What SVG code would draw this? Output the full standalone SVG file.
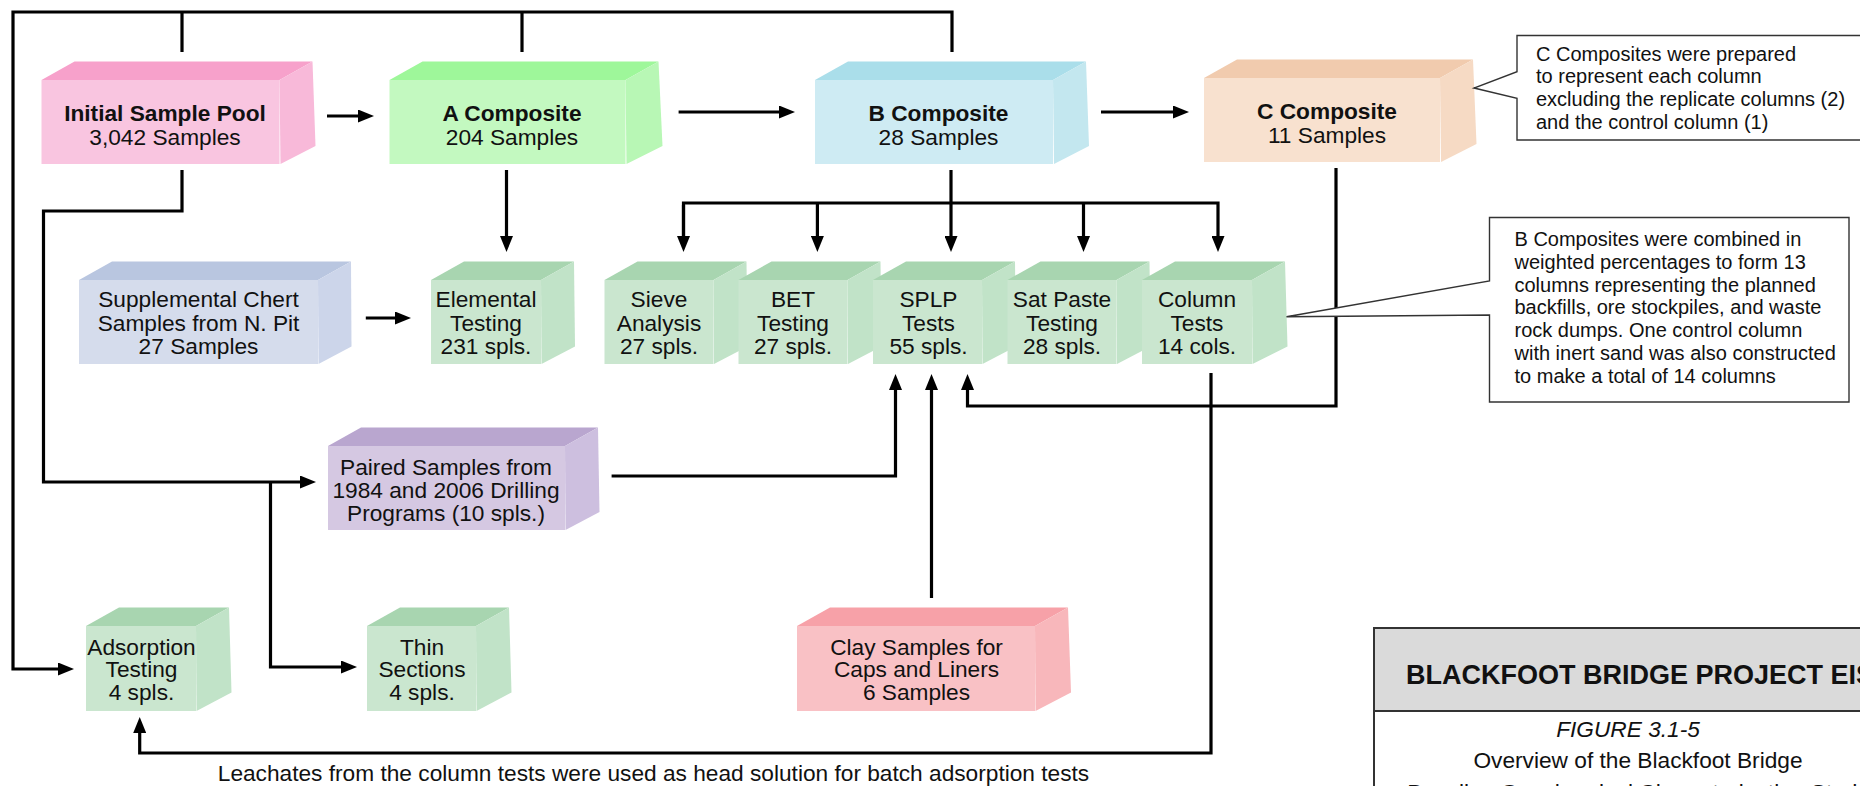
<svg xmlns="http://www.w3.org/2000/svg" width="1860" height="786" viewBox="0 0 1860 786">
<style>
.t{font-family:"Liberation Sans",Arial,sans-serif;font-size:22.7px;fill:#111;text-anchor:middle}
.b{font-weight:bold}
.c{font-family:"Liberation Sans",Arial,sans-serif;font-size:20px;fill:#111}
.ln{fill:none;stroke:#000;stroke-width:3.2}
.co{fill:#fff;stroke:#333;stroke-width:1.4}
.pink .f{fill:#f9c5e0}.pink .tp{fill:#f7a1cb}.pink .rt{fill:#f8b9d9}
.lg .f{fill:#c3f9c0}.lg .tp{fill:#9ef79a}.lg .rt{fill:#b8f7b5}
.blue .f{fill:#ceebf3}.blue .tp{fill:#aadeea}.blue .rt{fill:#c3e7ef}
.peach .f{fill:#f8e1cf}.peach .tp{fill:#f1cbae}.peach .rt{fill:#f6dac4}
.gr .f{fill:#cae6cf}.gr .tp{fill:#a8d5b0}.gr .rt{fill:#c1e3c8}
.sl .f{fill:#d5dcec}.sl .tp{fill:#b9c6e0}.sl .rt{fill:#ccd5ea}
.pu .f{fill:#d5c8e2}.pu .tp{fill:#b9a6cf}.pu .rt{fill:#cdbfdf}
.cl .f{fill:#f9c1c5}.cl .tp{fill:#f7a1a8}.cl .rt{fill:#f8b7bb}
</style>
<defs>
<marker id="ah" markerUnits="userSpaceOnUse" markerWidth="16" markerHeight="13" refX="8" refY="6.5" orient="auto">
<path d="M0,0 L16,6.5 L0,13 Z" fill="#000"/>
</marker>
</defs>
<rect width="1860" height="786" fill="#fff"/>

<g id="connectors">
<path class="ln" d="M952,52 V12 H13 V669 H66" marker-end="url(#ah)"/>
<path class="ln" d="M182,52 V12"/>
<path class="ln" d="M522,52 V12"/>
<path class="ln" d="M182,170 V211 H43.5 V482 H308" marker-end="url(#ah)"/>
<path class="ln" d="M270.5,482 V667 H349" marker-end="url(#ah)"/>
<path class="ln" d="M327,116 H366" marker-end="url(#ah)"/>
<path class="ln" d="M678.6,112 H787" marker-end="url(#ah)"/>
<path class="ln" d="M1101,112 H1181" marker-end="url(#ah)"/>
<path class="ln" d="M506.5,170 V244" marker-end="url(#ah)"/>
<path class="ln" d="M365.8,318 H403" marker-end="url(#ah)"/>
<path class="ln" d="M951,170 V244" marker-end="url(#ah)"/>
<path class="ln" d="M683.5,244 V203 H1218 V244" marker-end="url(#ah)"/>
<path class="ln" d="M683.5,205 V244" marker-end="url(#ah)"/>
<path class="ln" d="M817.4,203 V244" marker-end="url(#ah)"/>
<path class="ln" d="M1083.5,203 V244" marker-end="url(#ah)"/>
<path class="ln" d="M1336,168 V406 H967.5 V382" marker-end="url(#ah)"/>
<path class="ln" d="M611.6,476 H895.5 V382" marker-end="url(#ah)"/>
<path class="ln" d="M931.5,598 V382" marker-end="url(#ah)"/>
<path class="ln" d="M1211,373 V753 H139.7 V725" marker-end="url(#ah)"/>
</g>

<g id="initial" class="pink">
<rect class="f" x="41.5" y="80" width="238" height="84"/>
<polygon class="tp" points="41.5,80 74.5,61.5 312.5,61.5 279.5,80"/>
<polygon class="rt" points="279.5,80 312.5,61.5 315.5,146 280.5,164"/>
<text class="t b" x="165" y="121.4">Initial Sample Pool</text>
<text class="t" x="165" y="144.8">3,042 Samples</text>
</g>

<g id="a-composite" class="lg">
<rect class="f" x="389.5" y="80" width="236" height="84"/>
<polygon class="tp" points="389.5,80 422.5,61.5 658.5,61.5 625.5,80"/>
<polygon class="rt" points="625.5,80 658.5,61.5 662.5,146 626.5,164"/>
<text class="t b" x="512" y="121.4">A Composite</text>
<text class="t" x="512" y="144.8">204 Samples</text>
</g>

<g id="b-composite" class="blue">
<rect class="f" x="815" y="80" width="238" height="84"/>
<polygon class="tp" points="815,80 848,61.5 1086,61.5 1053,80"/>
<polygon class="rt" points="1053,80 1086,61.5 1089,146 1054,164"/>
<text class="t b" x="938.5" y="121.4">B Composite</text>
<text class="t" x="938.5" y="144.8">28 Samples</text>
</g>

<g id="c-composite" class="peach">
<rect class="f" x="1204" y="78" width="236" height="84"/>
<polygon class="tp" points="1204,78 1237,59.5 1473,59.5 1440,78"/>
<polygon class="rt" points="1440,78 1473,59.5 1476.5,144 1441,162"/>
<text class="t b" x="1327" y="119.4">C Composite</text>
<text class="t" x="1327" y="142.8">11 Samples</text>
</g>

<g id="supplemental" class="sl">
<rect class="f" x="79" y="280" width="239" height="84"/>
<polygon class="tp" points="79,280 112,261.5 351,261.5 318,280"/>
<polygon class="rt" points="318,280 351,261.5 351.5,346.5 318.5,364"/>
<text class="t" x="198.5" y="307.4">Supplemental Chert</text>
<text class="t" x="198.5" y="330.8">Samples from N. Pit</text>
<text class="t" x="198.5" y="354.1">27 Samples</text>
</g>

<g id="elemental" class="gr">
<rect class="f" x="431" y="280" width="110" height="84"/>
<polygon class="tp" points="431,280 464,261.5 574,261.5 541,280"/>
<polygon class="rt" points="541,280 574,261.5 575,346.5 541.5,364"/>
<text class="t" x="486" y="307.4">Elemental</text>
<text class="t" x="486" y="330.8">Testing</text>
<text class="t" x="486" y="354.1">231 spls.</text>
</g>

<g id="sieve" class="gr">
<rect class="f" x="604.5" y="280" width="109" height="84"/>
<polygon class="tp" points="604.5,280 637.5,261.5 746.5,261.5 713.5,280"/>
<polygon class="rt" points="713.5,280 746.5,261.5 747.5,346.5 714,364"/>
<text class="t" x="659" y="307.4">Sieve</text>
<text class="t" x="659" y="330.8">Analysis</text>
<text class="t" x="659" y="354.1">27 spls.</text>
</g>

<g id="bet" class="gr">
<rect class="f" x="738.5" y="280" width="109" height="84"/>
<polygon class="tp" points="738.5,280 771.5,261.5 880.5,261.5 847.5,280"/>
<polygon class="rt" points="847.5,280 880.5,261.5 881.5,346.5 848,364"/>
<text class="t" x="793" y="307.4">BET</text>
<text class="t" x="793" y="330.8">Testing</text>
<text class="t" x="793" y="354.1">27 spls.</text>
</g>

<g id="splp" class="gr">
<rect class="f" x="873" y="280" width="109" height="84"/>
<polygon class="tp" points="873,280 906,261.5 1015,261.5 982,280"/>
<polygon class="rt" points="982,280 1015,261.5 1016,346.5 982.5,364"/>
<text class="t" x="928.5" y="307.4">SPLP</text>
<text class="t" x="928.5" y="330.8">Tests</text>
<text class="t" x="928.5" y="354.1">55 spls.</text>
</g>

<g id="sat-paste" class="gr">
<rect class="f" x="1007.5" y="280" width="109" height="84"/>
<polygon class="tp" points="1007.5,280 1040.5,261.5 1149.5,261.5 1116.5,280"/>
<polygon class="rt" points="1116.5,280 1149.5,261.5 1150.5,346.5 1117,364"/>
<text class="t" x="1062" y="307.4">Sat Paste</text>
<text class="t" x="1062" y="330.8">Testing</text>
<text class="t" x="1062" y="354.1">28 spls.</text>
</g>

<g id="column" class="gr">
<rect class="f" x="1142" y="280" width="110" height="84"/>
<polygon class="tp" points="1142,280 1175,261.5 1285,261.5 1252,280"/>
<polygon class="rt" points="1252,280 1285,261.5 1287.5,346.5 1252.5,364"/>
<text class="t" x="1197" y="307.4">Column</text>
<text class="t" x="1197" y="330.8">Tests</text>
<text class="t" x="1197" y="354.1">14 cols.</text>
</g>

<g id="paired" class="pu">
<rect class="f" x="328" y="446" width="237" height="84"/>
<polygon class="tp" points="328,446 361,427.5 598,427.5 565,446"/>
<polygon class="rt" points="565,446 598,427.5 599.5,512 565.5,530"/>
<text class="t" x="446" y="474.8">Paired Samples from</text>
<text class="t" x="446" y="498.1">1984 and 2006 Drilling</text>
<text class="t" x="446" y="520.8">Programs (10 spls.)</text>
</g>

<g id="adsorption" class="gr">
<rect class="f" x="86" y="626" width="110" height="85"/>
<polygon class="tp" points="86,626 119,607.5 229,607.5 196,626"/>
<polygon class="rt" points="196,626 229,607.5 231.5,692.5 196.5,711"/>
<text class="t" x="141.5" y="654.8">Adsorption</text>
<text class="t" x="141.5" y="677.1">Testing</text>
<text class="t" x="141.5" y="699.8">4 spls.</text>
</g>

<g id="thin" class="gr">
<rect class="f" x="367" y="626" width="109" height="85"/>
<polygon class="tp" points="367,626 400,607.5 509,607.5 476,626"/>
<polygon class="rt" points="476,626 509,607.5 511.5,692.5 476.5,711"/>
<text class="t" x="422" y="654.8">Thin</text>
<text class="t" x="422" y="677.1">Sections</text>
<text class="t" x="422" y="699.8">4 spls.</text>
</g>

<g id="clay" class="cl">
<rect class="f" x="797" y="626" width="238" height="85"/>
<polygon class="tp" points="797,626 830,607.5 1068,607.5 1035,626"/>
<polygon class="rt" points="1035,626 1068,607.5 1071,692.5 1035.5,711"/>
<text class="t" x="916.5" y="654.8">Clay Samples for</text>
<text class="t" x="916.5" y="677.1">Caps and Liners</text>
<text class="t" x="916.5" y="699.8">6 Samples</text>
</g>

<g id="leachate-note">
<text class="t" x="653.5" y="781">Leachates from the column tests were used as head solution for batch adsorption tests</text>
</g>

<g id="callout-c">
<path class="co" d="M1517,35.5 H1875 V140 H1517 V98.3 L1474,88 L1517,71.7 Z"/>
<text class="c" x="1536" y="60.7">C Composites were prepared</text>
<text class="c" x="1536" y="83.3">to represent each column</text>
<text class="c" x="1536" y="106">excluding the replicate columns (2)</text>
<text class="c" x="1536" y="129">and the control column (1)</text>
</g>

<g id="callout-b">
<path class="co" d="M1489.5,217.5 H1849 V402 H1489.5 V315 L1286.5,316.7 L1489.5,281 Z"/>
<text class="c" x="1514.5" y="246">B Composites were combined in</text>
<text class="c" x="1514.5" y="268.8">weighted percentages to form 13</text>
<text class="c" x="1514.5" y="291.6">columns representing the planned</text>
<text class="c" x="1514.5" y="314.4">backfills, ore stockpiles, and waste</text>
<text class="c" x="1514.5" y="337.2">rock dumps. One control column</text>
<text class="c" x="1514.5" y="360">with inert sand was also constructed</text>
<text class="c" x="1514.5" y="382.8">to make a total of 14 columns</text>
</g>

<g id="title-block">
<rect x="1374" y="628" width="600" height="300" fill="#fff" stroke="#333" stroke-width="2"/>
<rect x="1375" y="629" width="598" height="82" fill="#dadada"/>
<line x1="1374" y1="711" x2="1974" y2="711" stroke="#333" stroke-width="2"/>
<text class="t b" x="1406" y="684.3" style="text-anchor:start;font-size:27px">BLACKFOOT BRIDGE PROJECT EIS</text>
<text class="t" x="1628" y="736.7" style="font-style:italic">FIGURE 3.1-5</text>
<text class="t" x="1638" y="768.3">Overview of the Blackfoot Bridge</text>
<text class="t" x="1638" y="800">Baseline Geochemical Characterization Study</text>
</g>
</svg>
